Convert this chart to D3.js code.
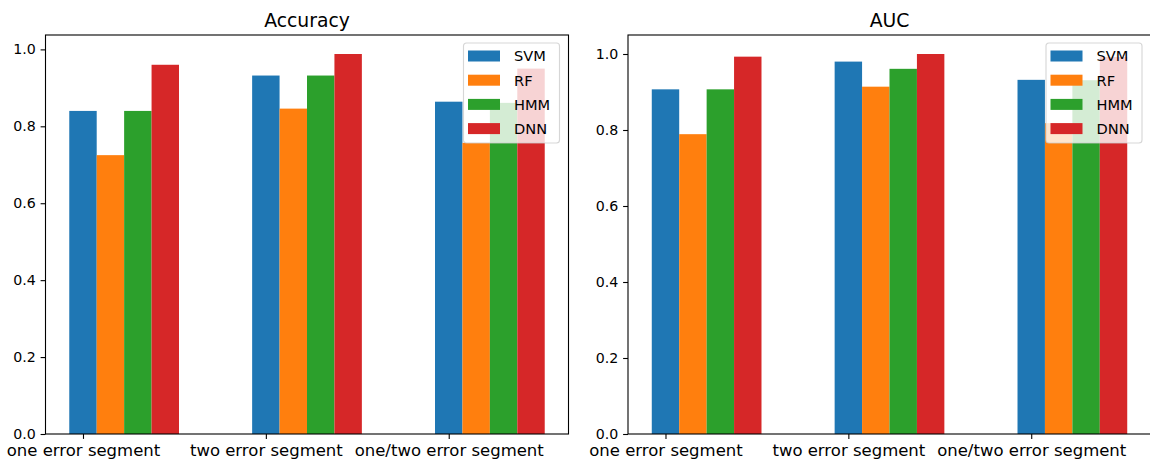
<!DOCTYPE html>
<html>
<head>
<meta charset="utf-8">
<script src="https://cdn.jsdelivr.net/npm/d3@7"></script>
<style>
  html, body { margin: 0; padding: 0; background: #fff; }
  svg { display: block; font-family: "DejaVu Sans", sans-serif; }
</style>
</head>
<body>
<svg id="chart" width="1150" height="465"></svg>
<script>
const categories = ["one error segment", "two error segment", "one/two error segment"];
const models = ["SVM", "RF", "HMM", "DNN"];
const colors = ["#1f77b4", "#ff7f0e", "#2ca02c", "#d62728"];

// Accuracy values per model (categories in order)
const accSVM = [0.840, 0.932, 0.864];
const accRF  = [0.725, 0.846, 0.757];
const accHMM = [0.840, 0.932, 0.861];
const accDNN = [0.960, 0.988, 0.950];

// AUC values per model
const aucSVM = [0.907, 0.980, 0.932];
const aucRF  = [0.789, 0.914, 0.818];
const aucHMM = [0.907, 0.961, 0.931];
const aucDNN = [0.993, 1.000, 0.992];

const yTicks = [0.0, 0.2, 0.4, 0.6, 0.8, 1.0];

const panels = [
  { title: "Accuracy", series: [accSVM, accRF, accHMM, accDNN], left: 45.5 },
  { title: "AUC", series: [aucSVM, aucRF, aucHMM, aucDNN], left: 628 }
];

const svg = d3.select("#chart");
const axTop = 35, axBottom = 434, axWidth = 523;
const barW = 0.15;

panels.forEach(p => {
  const g = svg.append("g").attr("transform", `translate(${p.left},${axTop})`);
  const h = axBottom - axTop;

  const dmin = -barW / 2, dmax = (categories.length - 1) + 3.5 * barW;
  const span = dmax - dmin;
  const x = d3.scaleLinear().domain([dmin - 0.05 * span, dmax + 0.05 * span]).range([0, axWidth]);
  const maxV = d3.max(p.series.flat());
  const y = d3.scaleLinear().domain([0, maxV * 1.05]).range([h, 0]);

  // bars
  p.series.forEach((vals, j) => {
    g.selectAll(null).data(vals).enter().append("rect")
      .attr("x", (d, i) => x(i + j * barW - barW / 2))
      .attr("width", (d, i) => x(i + j * barW + barW / 2) - x(i + j * barW - barW / 2))
      .attr("y", d => y(d))
      .attr("height", d => h - y(d))
      .attr("fill", colors[j]);
  });

  // axes
  const yAxis = d3.axisLeft(y).tickValues(yTicks).tickFormat(d3.format(".1f")).tickSize(4.9).tickPadding(4.9);
  const ya = g.append("g").call(yAxis);
  ya.select(".domain").remove();
  ya.selectAll("text").attr("font-size", "14.2px").attr("fill", "#000").attr("font-family", "DejaVu Sans");
  ya.selectAll("line").attr("stroke", "#000").attr("stroke-width", 1.1);

  const xAxis = d3.axisBottom(x).tickValues(d3.range(categories.length)).tickFormat(i => categories[i]).tickSize(4.9).tickPadding(4.9);
  const xa = g.append("g").attr("transform", `translate(0,${h})`).call(xAxis);
  xa.select(".domain").remove();
  xa.selectAll("text").attr("font-size", "16.5px").attr("fill", "#000").attr("font-family", "DejaVu Sans").attr("dy", "0.74em");
  xa.selectAll("line").attr("stroke", "#000").attr("stroke-width", 1.1);

  // frame
  g.append("rect").attr("x", 0).attr("y", 0).attr("width", axWidth).attr("height", h)
    .attr("fill", "none").attr("stroke", "#000").attr("stroke-width", 1.1);

  // title
  g.append("text").attr("x", axWidth / 2).attr("y", -8)
    .attr("text-anchor", "middle").attr("font-size", "18.8px").attr("fill", "#000")
    .text(p.title);

  // legend
  const lgW = 96, lgX = axWidth - 9 - lgW, lgY = 8;
  const lg = g.append("g").attr("transform", `translate(${lgX},${lgY})`);
  lg.append("rect").attr("width", lgW).attr("height", 100).attr("rx", 3).attr("ry", 3)
    .attr("fill", "#fff").attr("fill-opacity", 0.8)
    .attr("stroke", "#cccccc").attr("stroke-opacity", 0.8).attr("stroke-width", 1.1);
  models.forEach((m, j) => {
    const cy = 13 + j * 24.2;
    lg.append("rect").attr("x", 4.5).attr("y", cy - 5.5).attr("width", 32).attr("height", 11).attr("fill", colors[j]);
    lg.append("text").attr("x", 50.5).attr("y", cy + 5.3).attr("font-size", "14.6px").attr("fill", "#000").text(m);
  });
});
</script>
</body>
</html>
